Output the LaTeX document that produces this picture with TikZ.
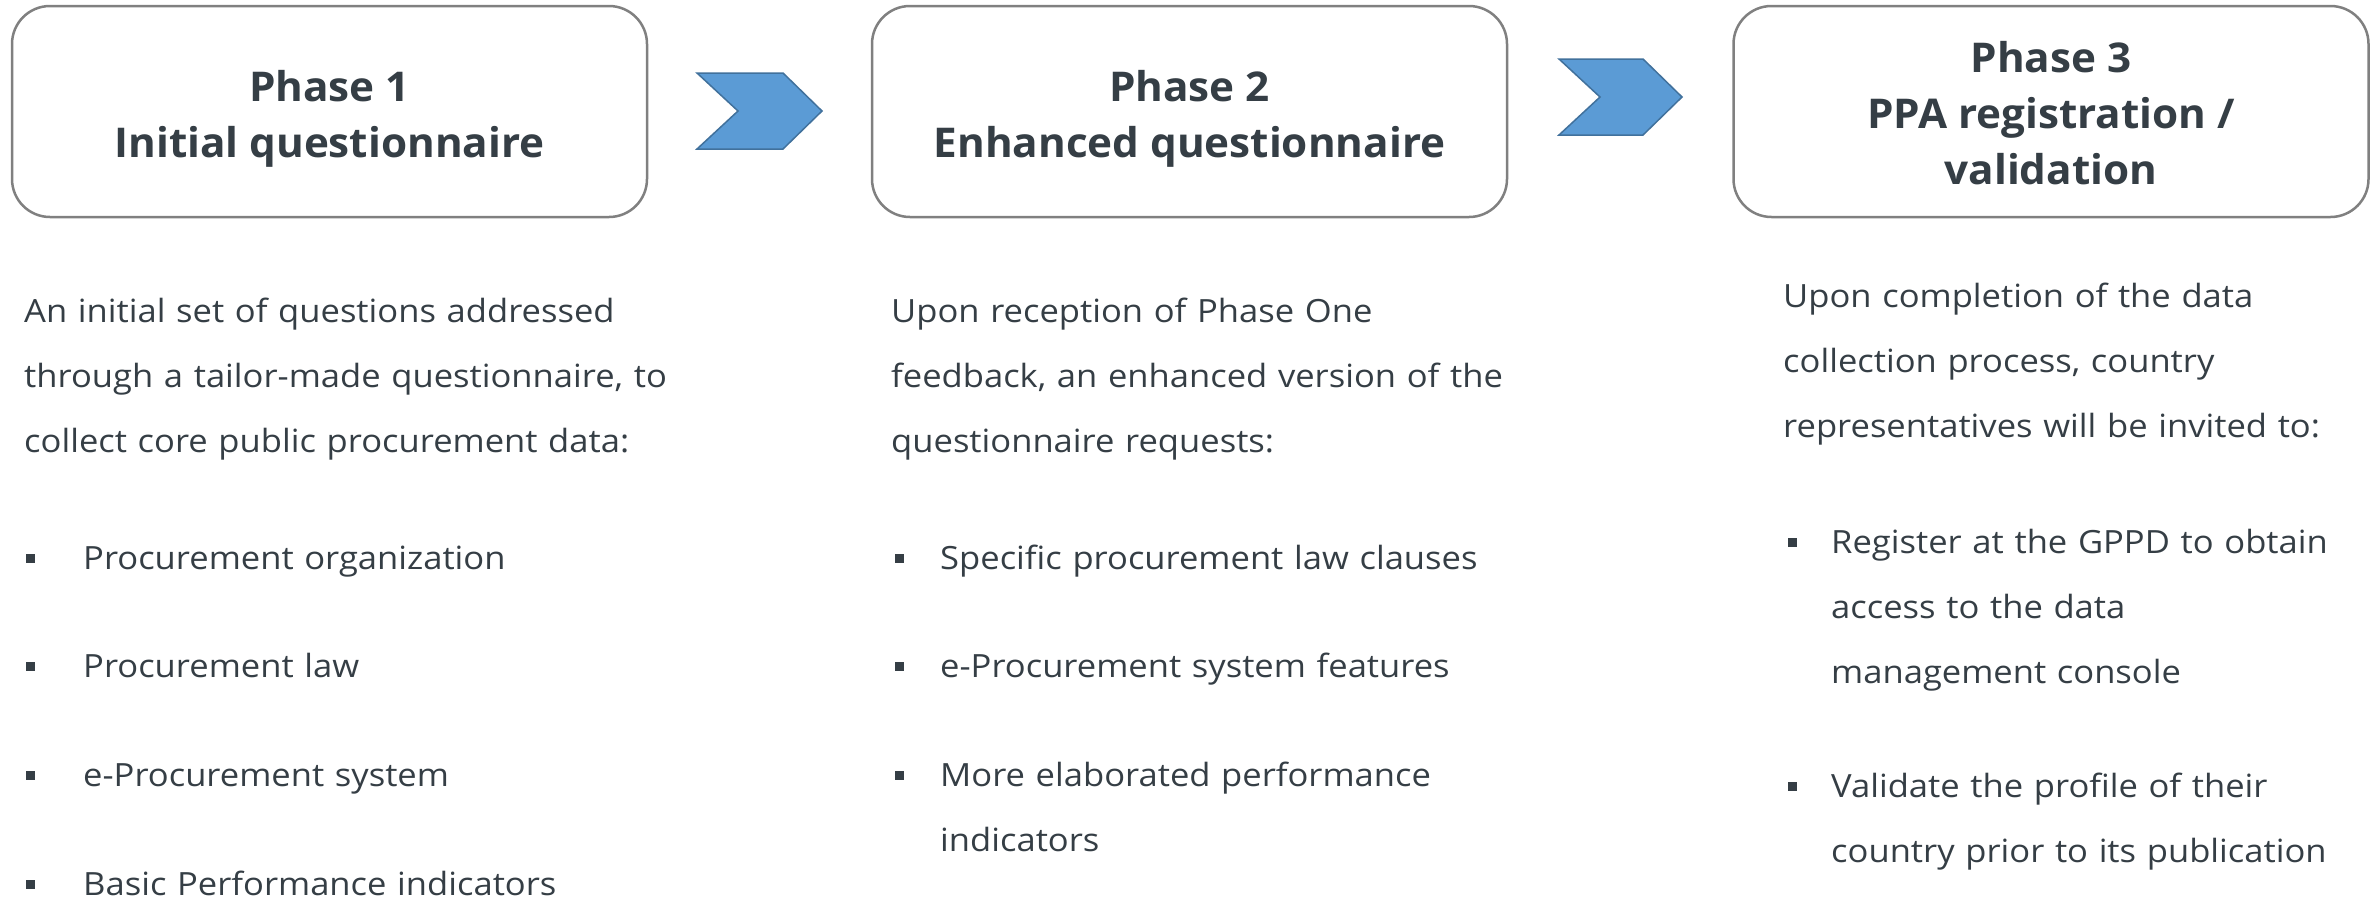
\documentclass[tikz,border=0pt]{standalone}
\usepackage{fontspec}
\setmainfont{Open Sans}
\newfontfamily\bodyfam[FakeStretch=1.08]{Open Sans}
\newfontfamily\ttlfam[FakeStretch=1.03]{Open Sans}
\definecolor{txt}{HTML}{353E45}
\definecolor{boxline}{HTML}{808080}
\definecolor{chevfill}{HTML}{5B9BD5}
\definecolor{chevline}{HTML}{41719C}
\newcommand{\ttlfont}{\ttlfam\fontsize{41}{56}\selectfont\bfseries}
\newcommand{\bodyfont}{\bodyfam\fontsize{32}{65}\selectfont}
\tikzset{
  phasebox/.style={draw=boxline, line width=2.5pt, rounded corners=38pt,
    minimum width=635pt, minimum height=211pt, align=center, font=\ttlfont,
    text=txt, inner sep=0pt},
  chev/.style={fill=chevfill, draw=chevline, line width=1.5pt, line join=miter},
  body/.style={anchor=base west, inner sep=0pt, align=left, text width=900pt,
    font=\bodyfont, text=txt},
  bul/.style={fill=txt, rectangle, inner sep=0pt, minimum size=9pt}
}
\begin{document}
\begin{tikzpicture}[x=1pt,y=-1pt]
\useasboundingbox[fill=white] (0,0) rectangle (2377,898);

% phase boxes
\node[phasebox] (p1) at (329.5,111.5) {};
\node[phasebox] (p2) at (1189.5,111.5) {};
\node[phasebox] (p3) at (2051,111.5) {};
\node[align=center, font=\ttlfont, text=txt, inner sep=0pt] (h1) at ([yshift=-7pt]p1.center) {Phase 1\\Initial questionnaire};
\node[align=center, font=\ttlfont, text=txt, inner sep=0pt] (h2) at ([yshift=-7pt]p2.center) {Phase 2\\Enhanced questionnaire};
\node[align=center, font=\ttlfont, text=txt, inner sep=0pt] (h3) at ([yshift=-2pt]p3.center) {Phase 3\\PPA registration /\\validation};

% chevrons
\draw[chev] (697,73) -- (783,73) -- (822,111) -- (783,149) -- (697,149) -- (738,111) -- cycle;
\draw[chev] (1559,59) -- (1643,59) -- (1682,97) -- (1643,135) -- (1559,135) -- (1600,97) -- cycle;

% column 1
\node[body] (d1) at (24,322) {An initial set of questions addressed\\through a tailor-made questionnaire, to\\collect core public procurement data:};
\node[bul] (b11) at (30.5,558) {};
\node[body] (t11) at (83,569) {Procurement organization};
\node[bul] (b12) at (30.5,666) {};
\node[body] (t12) at (83,677) {Procurement law};
\node[bul] (b13) at (30.5,775) {};
\node[body] (t13) at (83,786) {e-Procurement system};
\node[bul] (b14) at (30.5,884) {};
\node[body] (t14) at (83,895) {Basic Performance indicators};

% column 2
\node[body] (d2) at (891,322) {Upon reception of Phase One\\feedback, an enhanced version of the\\questionnaire requests:};
\node[bul] (b21) at (899,558) {};
\node[body] (t21) at (940,569) {Specific procurement law clauses};
\node[bul] (b22) at (899,666) {};
\node[body] (t22) at (940,677) {e-Procurement system features};
\node[bul] (b23) at (899,775) {};
\node[body] (t23) at (940,786) {More elaborated performance\\indicators};

% column 3
\node[body] (d3) at (1783,307) {Upon completion of the data\\collection process, country\\representatives will be invited to:};
\node[bul] (b31) at (1792,542) {};
\node[body] (t31) at (1831,553) {Register at the GPPD to obtain\\access to the data\\management console};
\node[bul] (b32) at (1792,786) {};
\node[body] (t32) at (1831,797) {Validate the profile of their\\country prior to its publication};
\end{tikzpicture}
\end{document}
